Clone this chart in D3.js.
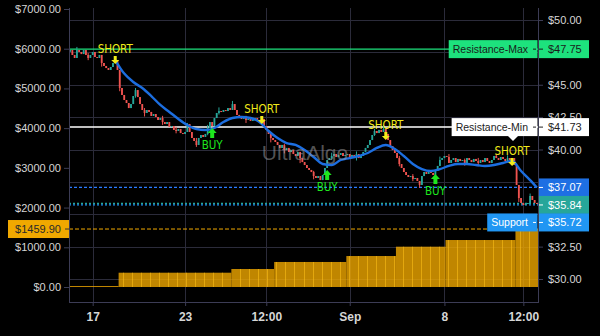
<!DOCTYPE html>
<html><head><meta charset="utf-8">
<script src="https://cdn.jsdelivr.net/npm/d3@7"></script>
<style>
html,body{margin:0;padding:0;background:#000;}
svg{display:block;}
text{font-family:"Liberation Sans",Arial,sans-serif;}
</style></head>
<body>
<svg id="c" width="600" height="336"></svg>
<script>
// ---------------- DATA ----------------
const closes = [47.68,47.30,47.07,47.68,47.53,47.37,47.68,47.30,47.07,47.30,
 47.53,47.14,47.07,47.30,46.68,46.45,46.29,46.14,46.37,46.68,
 46.91,46.14,44.75,44.21,43.82,43.59,43.20,43.51,44.13,44.59,
 44.05,43.51,43.05,42.82,43.05,42.90,42.59,42.74,42.51,42.28,
 42.43,42.12,41.97,42.12,41.74,41.81,41.51,41.43,41.58,41.27,
 41.20,41.35,41.97,41.35,40.89,40.66,40.35,40.89,41.12,40.97,
 41.20,41.66,42.12,41.81,42.43,42.82,42.97,42.90,43.05,42.97,
 43.20,43.05,43.51,43.05,42.67,42.51,42.36,42.43,42.28,42.36,
 42.20,42.28,42.43,42.20,42.28,42.36,41.81,41.51,41.20,40.89,
 40.73,40.58,40.35,40.12,40.35,39.96,40.12,39.81,39.96,39.65,
 39.50,39.81,39.34,39.03,38.80,38.57,38.42,38.26,37.95,37.80,
 37.95,37.64,38.03,38.57,39.19,39.34,39.50,39.65,39.42,39.58,
 39.73,39.50,39.58,39.65,39.42,39.58,39.50,39.65,39.34,39.50,
 39.81,40.12,40.35,40.73,41.12,41.43,41.27,41.51,41.35,41.58,
 41.20,40.73,40.27,39.96,39.73,39.34,38.88,38.57,38.26,38.03,
 37.88,37.95,37.72,37.80,37.57,37.26,37.95,38.26,38.11,38.34,
 38.19,38.03,38.34,38.73,39.19,39.34,39.50,39.42,38.96,39.19,
 39.34,39.03,39.27,39.11,39.19,38.96,39.34,39.19,39.03,39.27,
 39.11,38.96,39.19,39.03,39.34,39.11,38.96,39.19,39.50,39.34,
 39.19,39.42,39.27,39.11,39.34,39.19,39.34,38.80,37.26,36.25,
 35.87,35.71,35.79,35.87,36.41,36.10,35.87,35.84];
const firstOpen = 47.55;
// notable wicks: index, high, low
const wickIdx  = [3, 8, 14, 22, 29, 33, 41, 47, 52, 56, 61, 66, 72, 78, 89, 95, 102, 108, 116, 127, 135, 139, 146, 152, 155, 164, 168, 175, 181, 189, 194, 199, 204];
const wickHigh = [47.92, 47.45, 46.95, 45.60, 44.75, 43.20, 42.60, 41.75, 42.05, 40.89, 41.90, 43.25, 43.75, 42.60, 41.35, 40.45, 39.81, 38.35, 39.75, 39.85, 41.60, 41.90, 39.50, 38.10, 37.57, 39.45, 39.65, 39.30, 39.35, 39.62, 39.55, 37.00, 36.60];
const wickLow  = [47.53, 46.90, 46.40, 44.50, 44.00, 42.55, 41.90, 41.25, 41.35, 40.20, 41.10, 42.70, 43.05, 42.05, 40.55, 39.70, 38.95, 37.70, 39.20, 39.15, 41.05, 41.35, 38.70, 37.55, 37.05, 38.90, 38.96, 38.75, 38.70, 39.34, 39.05, 35.95, 35.87];

const maIdx = [20,24,28,32,36,40,44,48,52,56,60,64,68,72,76,80,84,88,92,96,100,104,108,112,116,120,124,128,132,136,140,144,148,152,156,160,164,168,172,176,180,184,188,192,196,200,204,207];
const maVal = [46.91,45.86,45.21,44.75,44.13,43.44,42.90,42.36,41.89,41.58,41.51,41.66,42.12,42.43,42.51,42.43,42.12,41.43,40.89,40.50,40.35,39.96,39.42,38.88,38.80,39.19,39.34,39.50,39.73,40.12,40.35,40.04,39.50,38.88,38.49,38.34,38.49,38.73,38.88,38.88,38.80,38.73,38.80,38.96,39.11,38.34,37.64,37.07];

const stepStart = [0, 22, 72, 91, 123, 145, 167, 198];
const stepValue = [25, 360, 453, 630, 780, 1015, 1183, 1459.90];

const markerIdx   = [20, 63, 85, 114, 140, 162, 196];
const markerType  = ["SHORT","BUY","SHORT","BUY","SHORT","BUY","SHORT"];
const markerPrice = [46.60, 41.66, 41.97, 38.42, 40.73, 38.11, 38.73];

const levelNames  = ["Resistance-Max", "Resistance-Min", "Support"];
const levelValues = [47.75, 41.73, 35.72];
const maLast = 37.07;
const lastPrice = 35.84;
const stepLast = 1459.90;

const leftTicks  = [0,1000,2000,3000,4000,5000,6000,7000];
const rightGrid  = [30,32.5,35,37.5,40,42.5,45,47.5,50];
const rightTicks = [30,32.5,40,42.5,45,50];
const xTickIdx   = [10, 51, 87, 124, 166, 201];
const xTickLabels= ["17","23","12:00","Sep","8","12:00"];

// ---------------- LAYOUT ----------------
const L = 69, R = 538, T = 8, B = 302;
const N = closes.length;
const svg = d3.select("#c");
svg.append("rect").attr("width",600).attr("height",336).attr("fill","#000");

const x  = d3.scaleLinear().domain([-0.5, N-0.5]).range([L, R]);
const yL = d3.scaleLinear().domain([0, 7000]).range([287, 9]);
const yR = d3.scaleLinear().domain([30, 50]).range([279, 20]);

const gridColor = "#2b2b3a", axisColor = "#3c3c55", txtColor = "#d6d6d6";

// grid
const grid = svg.append("g");
grid.selectAll("line.h").data(rightGrid).join("line")
  .attr("x1",L).attr("x2",R).attr("y1",d=>Math.round(yR(d))+0.5).attr("y2",d=>Math.round(yR(d))+0.5)
  .attr("stroke",gridColor).attr("stroke-width",1);
grid.selectAll("line.v").data(xTickIdx).join("line")
  .attr("x1",d=>Math.round(x(d))+0.5).attr("x2",d=>Math.round(x(d))+0.5).attr("y1",T).attr("y2",B)
  .attr("stroke",gridColor).attr("stroke-width",1);

// orange step histogram (left scale)
const steps = stepStart.map((s,k)=>({s, e: k<stepStart.length-1? stepStart[k+1] : N, v: stepValue[k]}));
const og = svg.append("g");
og.selectAll("rect").data(steps).join("rect")
  .attr("x",d=>x(d.s-0.5)).attr("width",d=>x(d.e-0.5)-x(d.s-0.5))
  .attr("y",d=>yL(d.v)).attr("height",d=>Math.max(1,yL(0)-yL(d.v)))
  .attr("fill","#f0a800").attr("fill-opacity",0.8);
const seps = [];
steps.forEach(st=>{ if (st.v>100) for(let i=Math.ceil(st.s/4)*4;i<st.e;i+=4){ if(i>st.s) seps.push({i,v:st.v}); } });
og.selectAll("line").data(seps).join("line")
  .attr("x1",d=>Math.round(x(d.i-0.5))+0.5).attr("x2",d=>Math.round(x(d.i-0.5))+0.5)
  .attr("y1",d=>yL(d.v)).attr("y2",yL(0))
  .attr("stroke","#ffc21a").attr("stroke-opacity",0.55).attr("stroke-width",1);

// level lines
const lines = svg.append("g");
function hline(yv, color, dash, w){
  lines.append("line").attr("x1",L).attr("x2",R).attr("y1",yv).attr("y2",yv)
    .attr("stroke",color).attr("stroke-width",w||1).attr("stroke-dasharray",dash||null);
}
hline(yR(levelValues[0]), "#1de27d", null, 1.2);
hline(yR(levelValues[1]), "#ffffff", null, 1.5);
hline(yR(maLast), "#2a7bff", "3,2", 1.2);
hline(yR(levelValues[2]), "#2196f3", "2,2", 1.2);
hline(yR(lastPrice), "#26a69a", "2,2", 1.2);
hline(yL(stepLast), "#f0a800", "4,2", 1);

// candles
const candles = closes.map((c,i)=>({i, o: i===0?firstOpen:closes[i-1], c}));
candles.forEach(d=>{ d.h=Math.max(d.o,d.c); d.l=Math.min(d.o,d.c); });
wickIdx.forEach((wi,k)=>{ candles[wi].h=Math.max(candles[wi].h,wickHigh[k]); candles[wi].l=Math.min(candles[wi].l,wickLow[k]); });
const up="#26a69a", dn="#ef5350";
const cg = svg.append("g");
cg.selectAll("line").data(candles).join("line")
  .attr("x1",d=>x(d.i)).attr("x2",d=>x(d.i)).attr("y1",d=>yR(d.h)).attr("y2",d=>yR(d.l))
  .attr("stroke",d=>d.c>=d.o?up:dn).attr("stroke-width",1);
cg.selectAll("rect").data(candles).join("rect")
  .attr("x",d=>x(d.i)-0.9).attr("width",1.8)
  .attr("y",d=>yR(Math.max(d.o,d.c))).attr("height",d=>Math.max(1,Math.abs(yR(d.o)-yR(d.c))))
  .attr("fill",d=>d.c>=d.o?up:dn);

// MA line
const maData = maIdx.map((i,k)=>({i, v: maVal[k]}));
svg.append("path").datum(maData)
  .attr("d", d3.line().x(d=>x(d.i)).y(d=>yR(d.v)).curve(d3.curveMonotoneX))
  .attr("fill","none").attr("stroke","#1c6ee0").attr("stroke-width",2.4);

// watermark
svg.append("text").attr("x",305).attr("y",152).attr("text-anchor","middle").attr("dominant-baseline","central")
  .attr("font-size",21).attr("fill","#9a9a9a").attr("fill-opacity",0.55).text("UltraAlgo");

// markers
const mg = svg.append("g");
const narrow = '"Liberation Sans Narrow","DejaVu Sans Condensed",sans-serif';
markerIdx.forEach((mi,k)=>{
  const cx = x(mi), ty = yR(markerPrice[k]);
  if (markerType[k]==="SHORT"){
    const col="#f2ea1a";
    mg.append("path").attr("d",`M${cx},${ty} L${cx-4},${ty-4} L${cx-1.5},${ty-4} L${cx-1.5},${ty-8} L${cx+1.5},${ty-8} L${cx+1.5},${ty-4} L${cx+4},${ty-4} Z`).attr("fill",col);
    mg.append("text").attr("x",cx).attr("y",ty-15).attr("text-anchor","middle").attr("dominant-baseline","central")
      .attr("font-size",11.5).attr("fill",col).style("font-family",narrow).text("SHORT");
  } else {
    const col="#1ee61e";
    mg.append("path").attr("d",`M${cx},${ty} L${cx-4.5},${ty+5} L${cx-2},${ty+5} L${cx-2},${ty+10} L${cx+2},${ty+10} L${cx+2},${ty+5} L${cx+4.5},${ty+5} Z`).attr("fill",col);
    mg.append("text").attr("x",cx).attr("y",ty+17).attr("text-anchor","middle").attr("dominant-baseline","central")
      .attr("font-size",11.5).attr("fill",col).style("font-family",narrow).text("BUY");
  }
});

// axes
function styleAxis(g){
  g.select(".domain").remove();
  g.selectAll(".tick line").attr("stroke",axisColor);
  g.selectAll(".tick text").attr("fill",txtColor).attr("font-size",11).style("font-family",'"Liberation Sans",Arial,sans-serif');
}
const fmt = d=>"$"+d.toFixed(2);
svg.append("g").attr("transform",`translate(${L},0)`)
  .call(d3.axisLeft(yL).tickValues(leftTicks).tickFormat(fmt).tickSize(5).tickPadding(3)).call(styleAxis);
svg.append("g").attr("transform",`translate(${R},0)`)
  .call(d3.axisRight(yR).tickValues(rightTicks).tickFormat(fmt).tickSize(5).tickPadding(5)).call(styleAxis);
svg.append("g").attr("transform",`translate(0,${B})`)
  .call(d3.axisBottom(x).tickValues(xTickIdx).tickFormat((d,i)=>xTickLabels[i]).tickSize(4).tickPadding(6)).call(styleAxis)
  .selectAll(".tick text").attr("font-size",12).attr("font-weight","bold");
svg.append("line").attr("x1",L+0.5).attr("x2",L+0.5).attr("y1",T).attr("y2",B).attr("stroke",axisColor);
svg.append("line").attr("x1",R+0.5).attr("x2",R+0.5).attr("y1",T).attr("y2",B).attr("stroke",axisColor);
svg.append("line").attr("x1",L).attr("x2",R+1).attr("y1",B+0.5).attr("y2",B+0.5).attr("stroke",axisColor);

// price label boxes
const bh = 18;
const boxes = [
  {v:levelValues[0], text:fmt(levelValues[0]), bg:"#1de27d", fg:"#1a1a1a", left:levelNames[0]},
  {v:levelValues[1], text:fmt(levelValues[1]), bg:"#ffffff", fg:"#222", left:levelNames[1], pointer:true},
  {v:maLast, text:fmt(maLast), bg:"#1e6fe3", fg:"#fff"},
  {v:lastPrice, text:fmt(lastPrice), bg:"#26a69a", fg:"#fff"},
  {v:levelValues[2], text:fmt(levelValues[2]), bg:"#2196f3", fg:"#fff", left:levelNames[2]}
];
let prev = -1e9;
boxes.forEach(b=>{ b.y = Math.max(yR(b.v), prev+17.5); prev=b.y; });
const lb = svg.append("g");
boxes.forEach(b=>{
  const y0 = b.y - bh/2;
  lb.append("rect").attr("x",R+1).attr("y",y0).attr("width",50).attr("height",bh).attr("fill",b.bg);
  lb.append("line").attr("x1",R+1).attr("x2",R+5).attr("y1",b.y).attr("y2",b.y).attr("stroke",b.fg).attr("stroke-width",1);
  lb.append("text").attr("x",R+10).attr("y",b.y).attr("dominant-baseline","central").attr("font-size",11).attr("fill",b.fg).text(b.text);
  if (b.left){
    const t = lb.append("text").attr("y",b.y).attr("dominant-baseline","central").attr("font-size",10.5).attr("fill",b.fg).text(b.left);
    const tw = t.node().getComputedTextLength();
    const bw = tw + 14;
    const bx = R - bw;
    lb.insert("rect","text:last-child").attr("x",bx).attr("y",y0).attr("width",bw-0.5).attr("height",bh).attr("fill",b.bg);
    t.attr("x",bx+4);
    lb.append("line").attr("x1",R-5).attr("x2",R-2).attr("y1",b.y).attr("y2",b.y).attr("stroke",b.fg);
    if (b.pointer){
      const px = R - 25;
      lb.append("path").attr("d",`M${px-5},${y0+bh} L${px+5},${y0+bh} L${px},${y0+bh+5} Z`).attr("fill",b.bg);
    }
  }
});
// left orange label
const ly = yL(stepLast);
lb.append("rect").attr("x",8).attr("y",ly-bh/2).attr("width",L-8).attr("height",bh).attr("fill","#f0a800");
lb.append("line").attr("x1",L-4).attr("x2",L).attr("y1",ly).attr("y2",ly).attr("stroke","#333");
lb.append("text").attr("x",L-8).attr("y",ly).attr("text-anchor","end").attr("dominant-baseline","central")
  .attr("font-size",11).attr("fill","#2a2a2a").text(fmt(stepLast));
</script>
</body></html>
